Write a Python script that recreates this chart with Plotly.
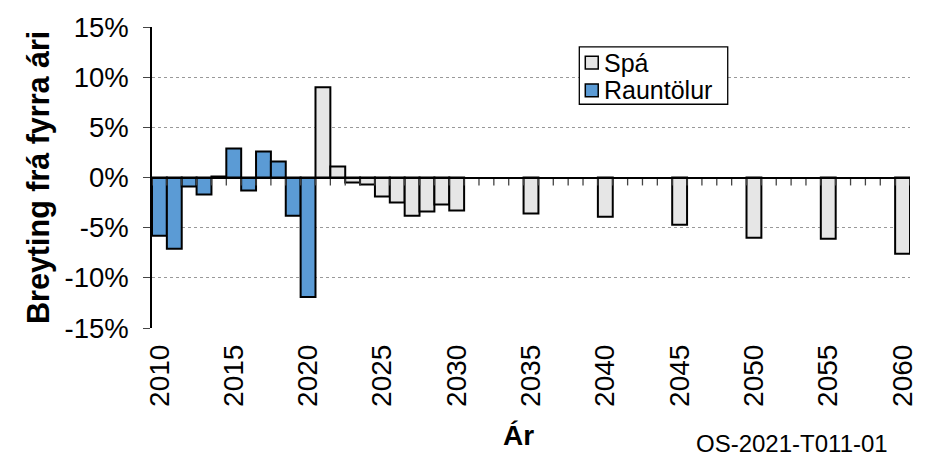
import plotly.graph_objects as go

# Annual change, per cent
actual_years = [2010, 2011, 2012, 2013, 2014, 2015, 2016, 2017, 2018, 2019, 2020]
actual_values = [-5.8, -7.1, -0.9, -1.7, 0.1, 2.9, -1.3, 2.6, 1.6, -3.8, -11.9]

forecast_years = [2021, 2022, 2023, 2024, 2025, 2026, 2027, 2028, 2029, 2030,
                  2035, 2040, 2045, 2050, 2055, 2060]
forecast_values = [9.0, 1.1, -0.5, -0.7, -1.9, -2.5, -3.8, -3.4, -2.7, -3.3,
                   -3.6, -3.9, -4.7, -6.0, -6.1, -7.6]

x_tick_years = list(range(2010, 2061, 5))
y_ticks = [-15, -10, -5, 0, 5, 10, 15]
y_tick_text = ["-15%", "-10%", "-5%", "0%", "5%", "10%", "15%"]

legend_labels = ["Spá", "Rauntölur"]

FONT = "Liberation Sans, Arial, sans-serif"
BLUE = "#5B9BD5"
GRAY = "#E6E6E6"
X_RANGE = [2009.5, 2060.5]
Y_RANGE = [-15, 15]

W, H = 930, 457
M_L, M_R, M_T, M_B = 152, 17, 24, 129
PLOT_W = W - M_L - M_R
PLOT_H = H - M_T - M_B


def px(x):
    """pixel column -> paper x"""
    return (x - M_L) / PLOT_W


def py(y):
    """pixel row -> paper y"""
    return 1 - (y - M_T) / PLOT_H


# category boundaries along the zero line get small tick marks
boundaries = [y + 0.5 for y in range(int(X_RANGE[0]), int(X_RANGE[1]) + 1)]
tick_len = 8 * (Y_RANGE[1] - Y_RANGE[0]) / PLOT_H
tick_x, tick_y = [], []
for b in boundaries:
    tick_x += [b, b, None]
    tick_y += [0, -tick_len, None]

fig = go.Figure()
fig.add_trace(go.Scatter(
    x=tick_x, y=tick_y, mode="lines",
    line=dict(color="#444444", width=1.3),
    hoverinfo="skip", showlegend=False,
))
fig.add_trace(go.Bar(
    x=actual_years, y=actual_values, name="Rauntölur", width=1,
    marker=dict(color=BLUE, line=dict(color="black", width=2)),
))
fig.add_trace(go.Bar(
    x=forecast_years, y=forecast_values, name="Spá", width=1,
    marker=dict(color=GRAY, line=dict(color="black", width=2)),
))
# zero-line axis drawn above the bars
fig.add_trace(go.Scatter(x=X_RANGE, y=[0, 0], xaxis="x2", yaxis="y",
                         mode="lines", line=dict(width=0),
                         showlegend=False, hoverinfo="skip"))

# legend box with swatches
shapes = [dict(type="rect", xref="paper", yref="paper",
               x0=px(581), x1=px(730), y0=py(44), y1=py(102),
               fillcolor="white", line=dict(color="black", width=1.3),
               layer="above")]
annotations = []
for label, color, row_y in zip(legend_labels, [GRAY, BLUE], [60, 88]):
    shapes.append(dict(type="rect", xref="paper", yref="paper",
                       x0=px(587), x1=px(600), y0=py(row_y - 6.5), y1=py(row_y + 6.5),
                       fillcolor=color, line=dict(color="black", width=1.5),
                       layer="above"))
    annotations.append(dict(text=label, xref="paper", yref="paper",
                            x=px(604), y=py(row_y), xanchor="left", yanchor="middle",
                            showarrow=False, font=dict(size=25, family=FONT)))

annotations += [
    dict(text="<b>Breyting frá fyrra ári</b>", xref="paper", yref="paper",
         x=px(38), y=py(176), xanchor="center", yanchor="middle",
         textangle=-90, showarrow=False, font=dict(size=30.5, family=FONT)),
    dict(text="<b>Ár</b>", xref="paper", yref="paper",
         x=px(520), y=py(437), xanchor="center", yanchor="middle",
         showarrow=False, font=dict(size=28, family=FONT)),
    dict(text="OS-2021-T011-01", xref="paper", yref="paper",
         x=px(893), y=py(445), xanchor="right", yanchor="middle",
         showarrow=False, font=dict(size=24, family=FONT)),
]

fig.update_layout(
    width=W, height=H,
    margin=dict(l=M_L, r=M_R, t=M_T, b=M_B),
    paper_bgcolor="white", plot_bgcolor="white",
    font=dict(family=FONT, color="black"),
    barmode="overlay",
    showlegend=False,
    xaxis=dict(
        range=X_RANGE, tickmode="array", tickvals=x_tick_years,
        tickangle=-90, tickfont=dict(size=28, family=FONT),
        showline=False, showgrid=False, zeroline=False, ticks="",
        ticklabelstandoff=10,
    ),
    xaxis2=dict(
        overlaying="x", anchor="free", position=py(M_T + PLOT_H / 2), range=X_RANGE,
        showline=True, linecolor="black", linewidth=2,
        ticks="", showticklabels=False, showgrid=False, zeroline=False,
    ),
    yaxis=dict(
        range=Y_RANGE, tickmode="array", tickvals=y_ticks, ticktext=y_tick_text,
        tickfont=dict(size=27.5, family=FONT),
        showline=True, linecolor="black", linewidth=1.5,
        ticks="outside", ticklen=7, tickcolor="#444", tickwidth=1,
        showgrid=True, gridcolor="#999999", griddash="3px,3px", gridwidth=1,
        zeroline=False, ticklabelstandoff=9,
    ),
    shapes=shapes,
    annotations=annotations,
)

fig.write_html("out.html")
